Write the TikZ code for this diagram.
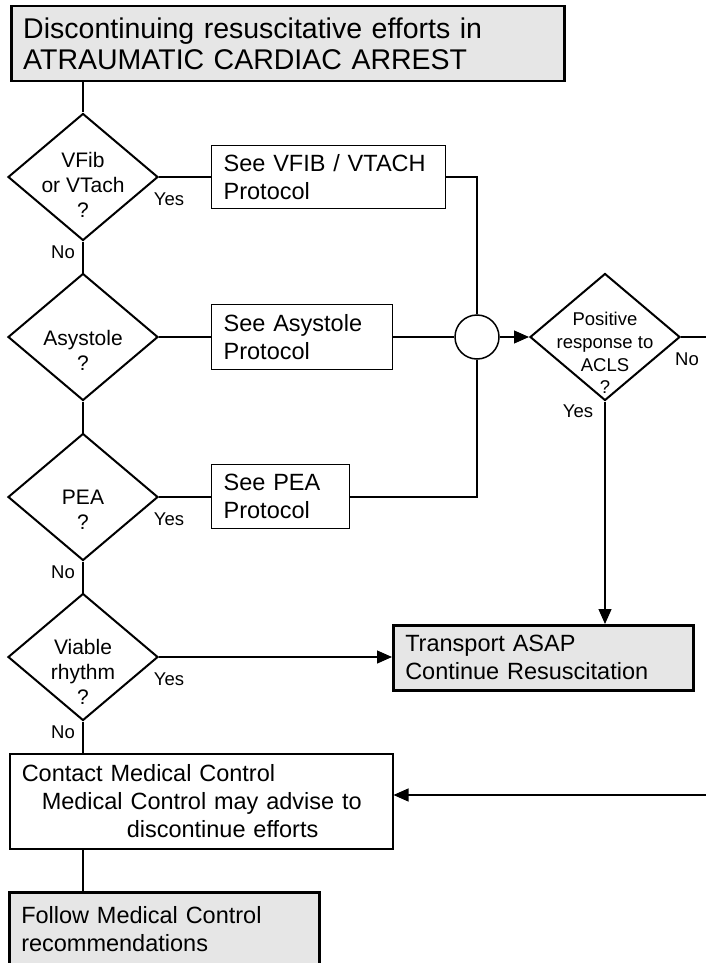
\documentclass[tikz,border=0pt]{standalone}
\usepackage{fontspec}
\setmainfont{Liberation Sans}
\usetikzlibrary{arrows.meta,shapes.geometric,calc}
\definecolor{boxgray}{HTML}{E6E6E6}
\begin{document}
\begin{tikzpicture}[x=1pt,y=-1pt,
  conn/.style={line width=1.2pt},
  arr/.style={conn,-{Triangle[length=15pt,width=13pt]}},
  pbox/.style={draw,line width=1.3pt,rectangle,anchor=north west,inner xsep=12pt,inner ysep=0pt,align=left,font=\fontsize{23.5}{28}\selectfont},
  gbox/.style={pbox,fill=boxgray,line width=2.5pt},
  dia/.style={draw,diamond,line width=2pt,minimum width=150pt,minimum height=127pt,inner sep=0pt},
  dtext/.style={align=center,inner sep=0pt,font=\fontsize{21}{25}\selectfont},
  ptext/.style={align=center,inner sep=0pt,font=\fontsize{18.5}{22.7}\selectfont},
  lab/.style={inner sep=0pt,font=\fontsize{18.5}{22}\selectfont},
]
\useasboundingbox (0,0) rectangle (706,963);
\clip (0,0) rectangle (706,963);

% boxes
\node[gbox,minimum width=553pt,text width=529pt,minimum height=75pt,font=\fontsize{28.5}{31}\selectfont] (title) at (10,5)
  {Discontinuing resuscitative efforts in\\ATRAUMATIC CARDIAC ARREST};
\node[pbox,minimum width=234pt,text width=210pt,minimum height=63pt] (b1) at (211,145) {See VFIB / VTACH\\Protocol};
\node[pbox,minimum width=181pt,text width=157pt,minimum height=65pt] (b2) at (211,304) {See Asystole\\Protocol};
\node[pbox,minimum width=138pt,text width=114pt,minimum height=64pt] (b3) at (211,464) {See PEA\\Protocol};
\node[gbox,minimum width=300pt,text width=276pt,minimum height=65pt] (trans) at (392,624) {Transport ASAP\\Continue Resuscitation};
\node[pbox,line width=1.5pt,minimum width=383pt,text width=359pt,minimum height=95pt] (contact) at (9,753)
  {Contact Medical Control\\\hspace*{20pt}Medical Control may advise to\\\hspace*{105pt}discontinue efforts};
\node[gbox,minimum width=310pt,text width=286pt,minimum height=74pt] (follow) at (8,891) {Follow Medical Control\\recommendations};

% decisions
\node[dia] (d1) at (83,177) {};
\node[dia] (d2) at (83,337) {};
\node[dia] (d3) at (83,497) {};
\node[dia] (d4) at (83,657) {};
\node[dia] (pos) at (605,337) {};
\node[dtext] (t1) at (83,184.5) {VFib\\or VTach\\?};
\node[dtext] (t2) at (83,350) {Asystole\\?};
\node[dtext] (t3) at (83,510) {PEA\\?};
\node[dtext] (t4) at (83,672) {Viable\\rhythm\\?};
\node[ptext] (tp) at (605,353) {Positive\\response to\\ACLS\\?};

% junction
\node[circle,draw,line width=1.5pt,minimum size=44pt,inner sep=0pt] (cj) at (477,337) {};

% labels
\node[lab] (y1) at (169,199) {Yes};
\node[lab] (n1) at (63,252) {No};
\node[lab] (y3) at (169,519) {Yes};
\node[lab] (n3) at (63,572) {No};
\node[lab] (y4) at (169,679) {Yes};
\node[lab] (n4) at (63,732) {No};
\node[lab] (yp) at (578,411) {Yes};
\node[lab] (np) at (687,359) {No};

% connectors
\draw[conn] (d1.north |- title.south) -- (d1.north);
\draw[conn] (d1.east) -- (d1.east -| b1.west);
\draw[conn] (d1.east -| b1.east) -| (cj.north);
\draw[conn] (d1.south) -- (d2.north);
\draw[conn] (d2.east) -- (d2.east -| b2.west);
\draw[conn] (d2.east -| b2.east) -- (cj.west);
\draw[conn] (d2.south) -- (d3.north);
\draw[conn] (d3.east) -- (d3.east -| b3.west);
\draw[conn] (d3.east -| b3.east) -| (cj.south);
\draw[conn] (d3.south) -- (d4.north);
\draw[arr] (d4.east) -- (d4.east -| trans.west);
\draw[conn] (d4.south) -- (d4.south |- contact.north);
\draw[conn] (d4.south |- contact.south) -- (d4.south |- follow.north);
\draw[arr] (cj.east) -- (pos.west);
\draw[arr] (pos.south) -- (pos.south |- trans.north);
\coordinate (r1) at (720,337);
\coordinate (r2) at (720,795);
\draw[arr] (pos.east) -- (r1) -- (r2) -- (r2 -| contact.east);
\end{tikzpicture}
\end{document}
